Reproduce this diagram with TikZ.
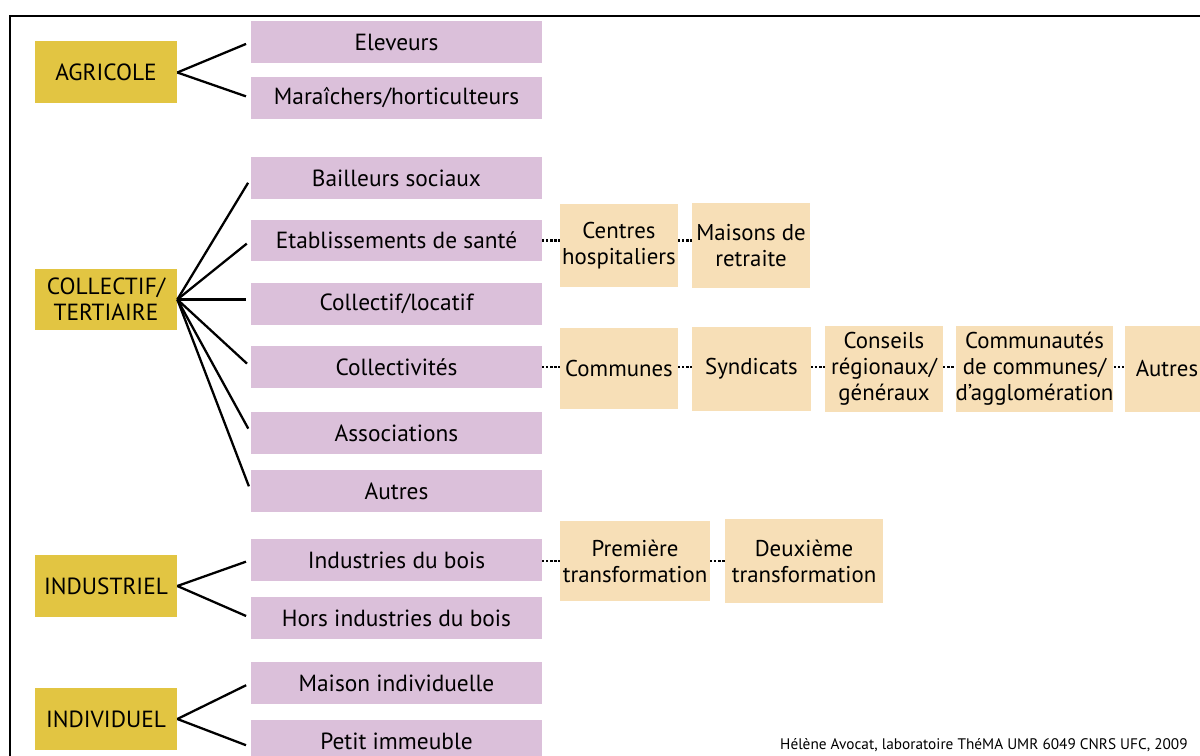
\documentclass[tikz,border=0pt]{standalone}
\usepackage{fontspec}
\setmainfont{PT Sans}
\definecolor{jaune}{RGB}{226,197,66}
\definecolor{mauve}{RGB}{219,192,218}
\definecolor{beige}{RGB}{247,223,183}

\begin{document}
\begin{tikzpicture}[x=0.02cm,y=-0.02cm,
    secteur/.style={fill=jaune,minimum width=2.84cm,minimum height=1.24cm,inner sep=0pt,align=center,font=\fontsize{13.3}{15}\selectfont},
    acteur/.style={fill=mauve,minimum width=5.82cm,minimum height=0.84cm,inner sep=0pt,font=\fontsize{13.3}{15}\selectfont},
    detail/.style={fill=beige,minimum width=2.36cm,minimum height=1.66cm,inner sep=0pt,align=center,font=\fontsize{13}{14.8}\selectfont},
    branche/.style={line width=1.3pt,shorten >=0.1cm},
    pointille/.style={line width=1.4pt,dash pattern=on 1.2pt off 1.1pt}]
        \useasboundingbox (0,0) rectangle (1200,756);
        \clip (0,0) rectangle (1200,756);

        % cadre
        \draw[line width=1.4pt] (10,780) -- (10,16) -- (1220,16);

        % secteurs
        \node[secteur] (agri) at (106,72.5) {AGRICOLE};
        \node[secteur] (coll) at (106,299.5) {COLLECTIF/\\TERTIAIRE};
        \node[secteur] (indus) at (106,586) {INDUSTRIEL};
        \node[secteur] (indiv) at (106,719) {INDIVIDUEL};

        % acteurs
        \node[acteur] (elev) at (396.5,42) {Eleveurs};
        \node[acteur] (mara) at (396.5,98) {Maraîchers/horticulteurs};
        \node[acteur] (bail) at (396.5,178.5) {Bailleurs sociaux};
        \node[acteur] (etab) at (396.5,240.5) {Etablissements de santé};
        \node[acteur] (loca) at (396.5,304) {Collectif/locatif};
        \node[acteur] (collec) at (396.5,367) {Collectivités};
        \node[acteur] (assoc) at (396.5,433) {Associations};
        \node[acteur] (autres) at (396.5,491) {Autres};
        \node[acteur] (bois) at (396.5,560) {Industries du bois};
        \node[acteur] (hors) at (396.5,618) {Hors industries du bois};
        \node[acteur] (maison) at (396.5,683) {Maison individuelle};
        \node[acteur] (petit) at (396.5,741) {Petit immeuble};

        % branches
        \draw[branche] (agri.east) -- (elev.west);
        \draw[branche] (agri.east) -- (mara.west);
        \draw[branche] (coll.east) -- (bail.west);
        \draw[branche] (coll.east) -- (etab.west);
        \draw[branche] (coll.east) -- (coll.east -| loca.west);
        \draw[branche] (coll.east) -- (collec.west);
        \draw[branche] (coll.east) -- (assoc.west);
        \draw[branche] (coll.east) -- (autres.west);
        \draw[branche] (indus.east) -- (bois.west);
        \draw[branche] (indus.east) -- (hors.west);
        \draw[branche] (indiv.east) -- (maison.west);
        \draw[branche] (indiv.east) -- ([yshift=-0.12cm]petit.west);

        % details
        \node[detail] (centres) at (619,245.5) {Centres\\hospitaliers};
        \node[detail,minimum height=1.7cm] (retraite) at (751,245.5) {Maisons de\\retraite};
        \node[detail,minimum height=1.62cm] (communes) at (619,368.5) {Communes};
        \node[detail,minimum width=2.38cm,minimum height=1.68cm] (syndic) at (751.5,369) {Syndicats};
        \node[detail,minimum height=1.72cm] (conseils) at (884,369) {Conseils\\régionaux/\\généraux};
        \node[detail,minimum width=3.1cm,minimum height=1.72cm] (commun) at (1034.5,369) {Communautés\\de communes/\\d’agglomération};
        \node[detail,minimum width=1.68cm,minimum height=1.72cm] (autresd) at (1167,369) {Autres};
        \node[detail,minimum width=3cm,minimum height=1.6cm] (prem) at (635,561) {Première\\transformation};
        \node[detail,minimum width=3.16cm,minimum height=1.68cm] (deux) at (804,561) {Deuxième\\transformation};

        % pointilles
        \draw[pointille] (etab.east) -- (etab.east -| centres.west);
        \draw[pointille] (etab.east -| centres.east) -- (etab.east -| retraite.west);
        \draw[pointille] (collec.east) -- (collec.east -| communes.west);
        \draw[pointille] (collec.east -| communes.east) -- (collec.east -| syndic.west);
        \draw[pointille] (collec.east -| syndic.east) -- (collec.east -| conseils.west);
        \draw[pointille] (collec.east -| conseils.east) -- (collec.east -| commun.west);
        \draw[pointille] (collec.east -| commun.east) -- (collec.east -| autresd.west);
        \draw[pointille] (bois.east |- prem.west) -- (prem.west);
        \draw[pointille] (prem.east) -- (prem.east -| deux.west);

        % source
        \node[anchor=base east,inner sep=0pt,font=\fontsize{8.7}{10}\selectfont] (source) at (1188,749) {Hélène Avocat, laboratoire ThéMA UMR 6049 CNRS UFC, 2009};
\end{tikzpicture}
\end{document}
